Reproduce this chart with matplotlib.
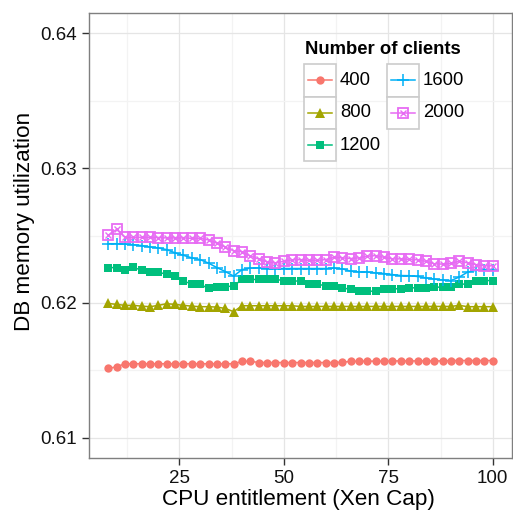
import matplotlib
matplotlib.use('Agg')
import matplotlib.pyplot as plt
from matplotlib.patches import Rectangle
from matplotlib.lines import Line2D
from matplotlib.ticker import MultipleLocator

plt.rcParams['font.family'] = ['Liberation Sans', 'DejaVu Sans']

# ---------------- data ----------------
cpu_cap = list(range(8, 101, 2))

mem_400 = [0.61514, 0.61526] + [0.61549] * 14 + [0.61566, 0.61568] + [0.61558] * 10 + \
          [0.61561, 0.61566] + [0.61568] * 4 + [0.61570] * 7 + [0.61573] * 6

mem_800 = [0.61996, 0.61989, 0.61982, 0.61982, 0.61976, 0.61972, 0.61982, 0.61994,
           0.61989, 0.61982, 0.61976, 0.61972, 0.61972, 0.61969, 0.61959, 0.61935] + \
          [0.61979] * 7 + [0.61974] * 19 + [0.61982] + [0.61972] * 4

mem_1200 = [0.62262, 0.62262, 0.62247, 0.62264, 0.62242, 0.62229, 0.62227, 0.62213,
            0.62196, 0.62159, 0.62143, 0.62138, 0.62107, 0.62118, 0.62120, 0.62126,
            0.62174, 0.62174, 0.62174, 0.62174, 0.62174, 0.62166, 0.62164, 0.62161,
            0.62142, 0.62137, 0.62129, 0.62124, 0.62112, 0.62100, 0.62092, 0.62087,
            0.62087, 0.62100, 0.62105, 0.62105, 0.62112, 0.62112, 0.62112, 0.62117,
            0.62117, 0.62117, 0.62137, 0.62142, 0.62166, 0.62166, 0.62166]

mem_1600 = [0.62439, 0.62439, 0.62436, 0.62432, 0.62425, 0.62415, 0.62408, 0.62395,
            0.62371, 0.62353, 0.62334, 0.62321, 0.62295, 0.62262, 0.62233, 0.62199,
            0.62247, 0.62258, 0.62260, 0.62255, 0.62255, 0.62255, 0.62255, 0.62255,
            0.62255, 0.62255, 0.62255, 0.62258, 0.62253, 0.62235, 0.62230, 0.62229,
            0.62223, 0.62218, 0.62210, 0.62203, 0.62202, 0.62196, 0.62186, 0.62177,
            0.62170, 0.62166, 0.62192, 0.62229, 0.62242, 0.62244, 0.62244]

mem_2000 = [0.62501, 0.62545, 0.62486, 0.62486, 0.62486, 0.62486, 0.62484, 0.62482,
            0.62482, 0.62482, 0.62479, 0.62479, 0.62467, 0.62443, 0.62414, 0.62386,
            0.62380, 0.62347, 0.62326, 0.62305, 0.62295, 0.62310, 0.62319, 0.62321,
            0.62316, 0.62316, 0.62321, 0.62338, 0.62334, 0.62329, 0.62334, 0.62346,
            0.62351, 0.62338, 0.62326, 0.62327, 0.62323, 0.62320, 0.62308, 0.62290,
            0.62288, 0.62293, 0.62309, 0.62297, 0.62284, 0.62275, 0.62275]

client_labels = ['400', '800', '1200', '1600', '2000']
series = [mem_400, mem_800, mem_1200, mem_1600, mem_2000]

x_ticks = [25, 50, 75, 100]
y_ticks = [0.61, 0.62, 0.63, 0.64]
x_tick_labels = ['25', '50', '75', '100']
y_tick_labels = ['0.61', '0.62', '0.63', '0.64']

# ---------------- style ----------------
colors = ['#F8766D', '#A3A500', '#00BF7D', '#00B0F6', '#E76BF3']
W, H = 513, 517
fig = plt.figure(figsize=(W / 100, H / 100), dpi=100)
L, R, T, B = 89, 512, 13, 458
ax = fig.add_axes([L / W, 1 - B / H, (R - L) / W, (B - T) / H])


def marker_style(i):
    c = colors[i]
    if i == 0:
        return [dict(marker='o', ms=6.0, mfc=c, mec=c, mew=0)]
    if i == 1:
        return [dict(marker='^', ms=7.0, mfc=c, mec=c, mew=0)]
    if i == 2:
        return [dict(marker='s', ms=6.2, mfc=c, mec=c, mew=0)]
    if i == 3:
        return [dict(marker='+', ms=8.5, mfc=c, mec=c, mew=1.1)]
    return [dict(marker='s', ms=6.6, mfc='none', mec=c, mew=1.3),
            dict(marker='x', ms=4.4, mfc='none', mec=c, mew=1.0)]


for i, (lab, ys) in enumerate(zip(client_labels, series)):
    ax.plot(cpu_cap, ys, color=colors[i], lw=1.1, zorder=3)
    for st in marker_style(i):
        ax.plot(cpu_cap, ys, ls='none', zorder=4, **st)

ax.set_xlim(3.4, 104.6)
ax.set_ylim(0.6085, 0.6415)
ax.set_xticks(x_ticks)
ax.set_xticklabels(x_tick_labels)
ax.set_yticks(y_ticks)
ax.set_yticklabels(y_tick_labels)
ax.xaxis.set_minor_locator(MultipleLocator(12.5))
ax.yaxis.set_minor_locator(MultipleLocator(0.005))
ax.grid(which='major', color='#e5e5e5', lw=0.9, zorder=0)
ax.grid(which='minor', color='#f3f3f3', lw=0.9, zorder=0)
ax.set_axisbelow(True)
ax.tick_params(which='major', direction='out', length=5, width=1.0, color='#333333',
               labelsize=13.5, labelcolor='#111111', pad=3.5)
ax.tick_params(which='minor', length=0)
for s in ax.spines.values():
    s.set_color('#7f7f7f')
    s.set_linewidth(1.0)

ax.set_xlabel('CPU entitlement (Xen Cap)', fontsize=16.2, color='black')
ax.set_ylabel('DB memory utilization', fontsize=16.2, color='black')
ax.xaxis.set_label_coords((298 - L) / (R - L), -(499 - B) / (B - T))
ax.yaxis.set_label_coords(-(89 - 25) / (R - L), (B - 221) / (B - T))
ax.xaxis.label.set_va('center')
ax.yaxis.label.set_va('center')

# ---------------- legend (drawn by hand, ggplot style) ----------------
def fx(px):
    return px / W


def fy(py):
    return 1 - py / H


fig.text(fx(305), fy(49), 'Number of clients', fontsize=13.3, fontweight='bold',
         ha='left', va='center')
key = 32.5
col_left = [303.5, 386.5]
row_top = [64, 96.5, 129]
positions = [(0, 0), (0, 1), (0, 2), (1, 0), (1, 1)]
for i, (ci, ri) in enumerate(positions):
    x0, y0 = col_left[ci], row_top[ri]
    fig.add_artist(Rectangle((fx(x0), fy(y0 + key)), key / W, key / H,
                             transform=fig.transFigure, facecolor='white',
                             edgecolor='#cccccc', lw=1.2, zorder=5))
    yc = y0 + key / 2
    fig.add_artist(Line2D([fx(x0 + 4), fx(x0 + key - 4)], [fy(yc), fy(yc)],
                          transform=fig.transFigure, color=colors[i], lw=1.1, zorder=6))
    for st in marker_style(i):
        fig.add_artist(Line2D([fx(x0 + key / 2)], [fy(yc)], transform=fig.transFigure,
                              ls='none', zorder=7, **st))
    fig.text(fx(x0 + key + 4), fy(yc), client_labels[i], fontsize=13.3,
             ha='left', va='center', color='black')

fig.savefig('out.png', dpi=100)
